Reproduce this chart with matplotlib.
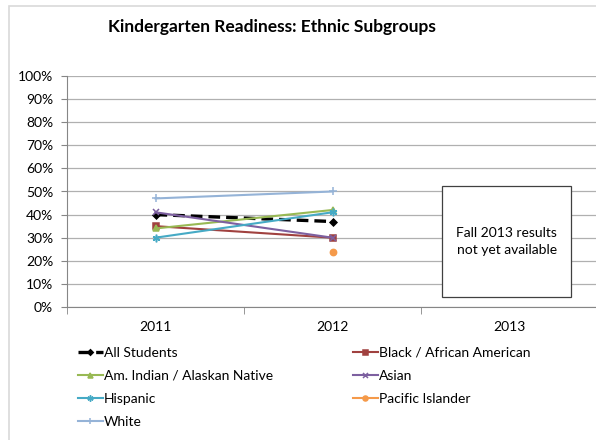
import matplotlib.pyplot as plt
import numpy as np
from matplotlib.patches import Rectangle

years = ["2011", "2012", "2013"]
groups = ["All Students", "Black / African American", "Am. Indian / Alaskan Native",
          "Asian", "Hispanic", "Pacific Islander", "White"]
all_students = [0.40, 0.37]
black = [0.35, 0.30]
am_indian = [0.34, 0.42]
asian = [0.41, 0.30]
hispanic = [0.30, 0.41]
pacific = [np.nan, 0.24]
white = [0.47, 0.50]

plt.rcParams["font.family"] = ["Lato", "DejaVu Sans"]

W, H = 596, 440
fig = plt.figure(figsize=(W / 100, H / 100), dpi=100)

# chart area border
fig.patches.append(Rectangle((9 / W, -0.1), 1.2, (H - 6) / H + 0.1, transform=fig.transFigure,
                             fill=False, edgecolor="#d9d9d9", linewidth=1.2))

fig.text(272 / W, 1 - 27 / H, "Kindergarten Readiness: Ethnic Subgroups",
         ha="center", va="center", fontsize=12.5, fontweight="bold")

ax = fig.add_axes([67 / W, (H - 307) / H, (598 - 67) / W, (307 - 76) / H])
x = np.arange(1, 3)

styles = [
    (all_students, "black", "D", (0, (3.5, 1.8)), 3.5, 2.4),
    (black, "#a0413f", "s", "-", 4.5, 1.5),
    (am_indian, "#98b954", "^", "-", 4.5, 1.5),
    (asian, "#7d60a0", "x", "-", 4.5, 1.5),
    (hispanic, "#46aac5", (6, 2, 0), "-", 5.5, 1.5),
    (pacific, "#f59a4a", "o", "-", 4.5, 1.5),
    (white, "#95b3d7", "+", "-", 5.5, 1.5),
]
handles = []
for (vals, color, marker, ls, ms, lw), name in zip(styles, groups):
    h, = ax.plot(x, vals, color=color, marker=marker, linestyle=ls, linewidth=lw,
                 markersize=ms, markeredgewidth=1.1, label=name)
    handles.append(h)

ax.set_xlim(0.5, 3.5)
ax.set_ylim(0, 1)
ax.set_yticks(np.arange(0, 1.01, 0.1))
ax.set_yticklabels([f"{int(round(v * 100))}%" for v in np.arange(0, 1.01, 0.1)])
ax.set_xticks([1, 2, 3])
ax.set_xticklabels(years)
ax.set_xticks([0.5, 1.5, 2.5, 3.5], minor=True)
ax.tick_params(axis="x", which="major", length=0, pad=10, labelsize=10)
ax.tick_params(axis="x", which="minor", length=5, color="#868686")
ax.tick_params(axis="y", length=4, color="#868686", pad=6, labelsize=10)
ax.grid(axis="y", color="#b0b0b0", linewidth=0.9)
ax.set_axisbelow(True)
for s in ["top", "right"]:
    ax.spines[s].set_visible(False)
for s in ["left", "bottom"]:
    ax.spines[s].set_color("#868686")

# note box for the year with no data yet
ax.add_patch(Rectangle((2.62, 0.043), 0.73, 0.481, facecolor="white", edgecolor="#404040",
                       linewidth=0.9, zorder=5))
ax.text(2.985, 0.285, "Fall 2013 results\nnot yet available", ha="center", va="center",
        fontsize=10, linespacing=1.5, zorder=6)

col1 = [handles[i] for i in (0, 2, 4, 6)]
col2 = [handles[i] for i in (1, 3, 5)]
for hs, xpos in ((col1, 72), (col2, 347)):
    fig.legend(hs, [h.get_label() for h in hs], loc="upper left",
               bbox_to_anchor=(xpos / W, 1 - 341 / H), frameon=False, fontsize=10,
               handlelength=1.8, handletextpad=0.1, labelspacing=0.8, borderaxespad=0,
               markerscale=0.8)

fig.savefig("out.png", dpi=100)
